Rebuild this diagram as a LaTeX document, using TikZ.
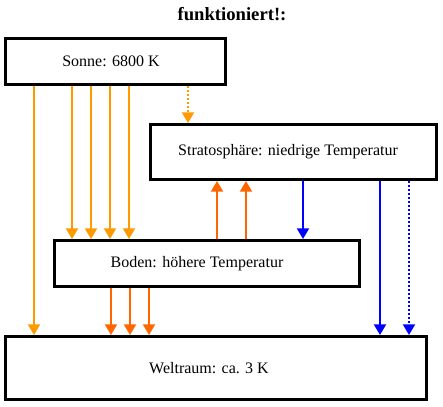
\documentclass[tikz,border=0pt]{standalone}
\usepackage{fontspec}
\setmainfont{Liberation Serif}
\definecolor{SunOrange}{RGB}{255, 153, 0}
\definecolor{GroundOrange}{RGB}{255, 102, 0}
\definecolor{SpaceBlue}{RGB}{0, 0, 255}
\usetikzlibrary{arrows.meta}

\begin{document}
\begin{tikzpicture}[x=0.75pt, y=-0.75pt]
        \tikzstyle{box} = [rectangle, draw, line width=2.25pt, inner sep=0pt,
            font=\fontsize{12}{14}\selectfont]
        \tikzstyle{ray} = [draw, line width=1.5pt, -{Triangle[width=9pt, length=8pt]}]
        \tikzstyle{faint} = [dash pattern=on 1.5pt off 1.5pt]

        \useasboundingbox (0,0) rectangle (443,407);

        \node [font=\fontsize{14}{16}\selectfont\bfseries] (title) at (232,14) {funktioniert!:};
        \node [box, minimum width=165pt, minimum height=34.5pt] (sonne) at (115.5,61.5) {Sonne: 6800 K\hspace*{6.75pt}};
        \node [box, minimum width=214.5pt, minimum height=41.25pt] (strato) at (293.5,152) {Stratosphäre: niedrige Temperatur\hspace*{8.25pt}};
        \node [box, minimum width=228.75pt, minimum height=34.5pt] (boden) at (207,263.5) {Boden: höhere Temperatur\hspace*{15pt}};
        \node [box, minimum width=315.75pt, minimum height=47.25pt] (weltraum) at (216,368) {Weltraum: ca. 3 K\hspace*{10.5pt}};

        % Sonnenstrahlung
        \path [ray, SunOrange] (sonne.south -| 34,0) -- (weltraum.north -| 34,0);
        \foreach \x in {72,91,110,129}
            \path [ray, SunOrange] (sonne.south -| \x,0) -- (boden.north -| \x,0);
        \path [ray, SunOrange, faint] (sonne.south -| 188,0) -- (strato.north -| 188,0);

        % Abstrahlung vom Boden
        \foreach \x in {217,246}
            \path [ray, GroundOrange] (boden.north -| \x,0) -- (strato.south -| \x,0);
        \foreach \x in {111,130,149}
            \path [ray, GroundOrange] (boden.south -| \x,0) -- (weltraum.north -| \x,0);

        % Abstrahlung der Stratosphaere
        \path [ray, SpaceBlue] (strato.south -| 303,0) -- (boden.north -| 303,0);
        \path [ray, SpaceBlue] (strato.south -| 380,0) -- (weltraum.north -| 380,0);
        \path [ray, SpaceBlue, faint] (strato.south -| 409,0) -- (weltraum.north -| 409,0);
    \end{tikzpicture}
\end{document}
